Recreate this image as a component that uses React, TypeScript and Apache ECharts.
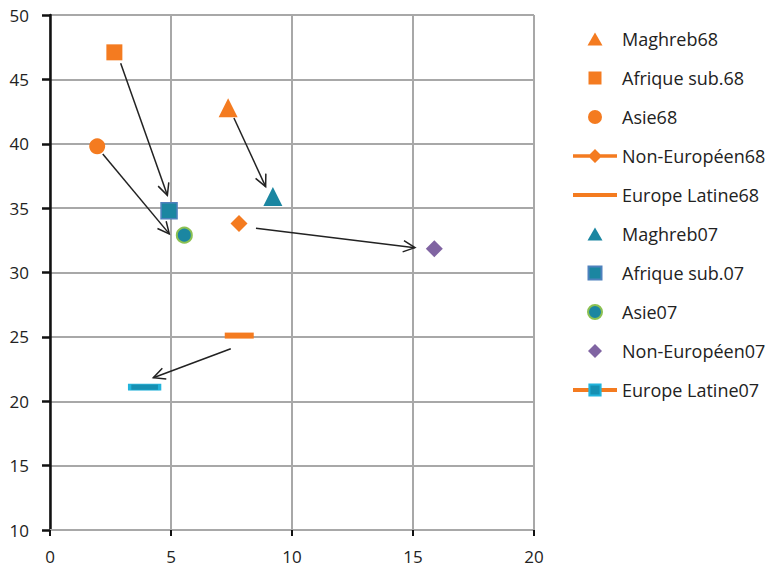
import React, { useEffect, useRef } from "react";
import * as echarts from "echarts";

// ---- data ----
const names68 = ["Maghreb68", "Afrique sub.68", "Asie68", "Non-Européen68", "Europe Latine68"];
const names07 = ["Maghreb07", "Afrique sub.07", "Asie07", "Non-Européen07", "Europe Latine07"];
const points68: number[][] = [
  [7.36, 42.8],
  [2.66, 47.1],
  [1.95, 39.8],
  [7.81, 33.8],
  [7.82, 25.1],
];
const points07: number[][] = [
  [9.21, 35.9],
  [4.92, 34.8],
  [5.55, 32.9],
  [15.88, 31.85],
  [3.91, 21.1],
];
// arrows: [xStart, yStart, xEnd, yEnd]
const arrows: number[][] = [
  [7.6, 42.0, 8.91, 36.67],
  [2.92, 46.25, 4.85, 36.0],
  [2.18, 39.2, 4.93, 33.0],
  [8.51, 33.43, 15.08, 31.93],
  [7.47, 24.08, 4.27, 21.83],
];
const xTicks = [0, 5, 10, 15, 20];
const yTicks = [10, 15, 20, 25, 30, 35, 40, 45, 50];

const ORANGE = "#f47b20";
const TEAL = "#1b86a1";
const FONT = "Open Sans";

// legend icons drawn in a 44x14 box (invisible corner points keep the box)
const BOX = "M0,0 L0,0 M44,14 L44,14 ";
const ICON_TRI = "path://" + BOX + "M22,0.5 L29.5,13.5 L14.5,13.5 Z";
const ICON_SQ = "path://" + BOX + "M15.5,0.5 L28.5,0.5 L28.5,13.5 L15.5,13.5 Z";
const ICON_CIRC = "path://" + BOX + "M29,7 A7,7 0 1 1 15,7 A7,7 0 1 1 29,7 Z";
const ICON_DIA = "path://" + BOX + "M22,0 L29,7 L22,14 L15,7 Z";
const ICON_LINE_DIA = "path://" + BOX + "M0,5.3 L44,5.3 L44,8.7 L0,8.7 Z M22,0 L29,7 L22,14 L15,7 Z";
const ICON_LINE = "path://" + BOX + "M0,5 L44,5 L44,9 L0,9 Z";

export default function App() {
  const ref = useRef<HTMLDivElement>(null);
  useEffect(() => {
    if (!ref.current) return;
    const chart = echarts.init(ref.current, null, { renderer: "svg" });
    const gridColor = "#a8a8a8";

    const series: any[] = [
      {
        name: names68[0], type: "scatter", symbol: "triangle", symbolSize: 19,
        itemStyle: { color: ORANGE, opacity: 1 }, data: [points68[0]], z: 3,
      },
      {
        name: names68[1], type: "scatter", symbol: "rect", symbolSize: 16,
        itemStyle: { color: ORANGE, opacity: 1 }, data: [points68[1]], z: 3,
      },
      {
        name: names68[2], type: "scatter", symbol: "circle", symbolSize: 16,
        itemStyle: { color: ORANGE, opacity: 1 }, data: [points68[2]], z: 3,
      },
      {
        name: names68[3], type: "scatter", symbol: "diamond", symbolSize: 17,
        itemStyle: { color: ORANGE, opacity: 1 }, data: [points68[3]], z: 3,
      },
      {
        name: names68[4], type: "scatter", symbol: "rect", symbolSize: [29, 6],
        itemStyle: { color: ORANGE, opacity: 1 }, data: [points68[4]], z: 3,
      },
      {
        name: names07[0], type: "scatter", symbol: "triangle", symbolSize: 19,
        itemStyle: { color: TEAL, opacity: 1 }, data: [points07[0]], z: 3,
      },
      {
        name: names07[1], type: "scatter", symbol: "rect", symbolSize: 16,
        itemStyle: { color: TEAL, borderColor: "#4f81bd", borderWidth: 1.5, opacity: 1 },
        data: [points07[1]], z: 3,
      },
      {
        name: names07[2], type: "scatter", symbol: "circle", symbolSize: 15,
        itemStyle: { color: TEAL, borderColor: "#8cc152", borderWidth: 2, opacity: 1 },
        data: [points07[2]], z: 3,
      },
      {
        name: names07[3], type: "scatter", symbol: "diamond", symbolSize: 17,
        itemStyle: { color: "#8064a2", opacity: 1 }, data: [points07[3]], z: 3,
      },
      {
        name: names07[4], type: "line", symbol: "rect", symbolSize: [30, 6], showSymbol: true,
        lineStyle: { color: ORANGE, width: 4 },
        itemStyle: { color: "#1590b3", borderColor: "#22b4dc", borderWidth: 1.5 },
        data: [points07[4]], z: 3,
      },
      {
        name: "arrows", type: "custom", z: 2, silent: true,
        encode: { x: [0, 2], y: [1, 3] },
        data: arrows,
        renderItem: (params: any, api: any) => {
          const p1 = api.coord([api.value(0), api.value(1)]);
          const p2 = api.coord([api.value(2), api.value(3)]);
          const ang = Math.atan2(p2[1] - p1[1], p2[0] - p1[0]);
          const L = 13, a = 0.45;
          const h1 = [p2[0] - L * Math.cos(ang - a), p2[1] - L * Math.sin(ang - a)];
          const h2 = [p2[0] - L * Math.cos(ang + a), p2[1] - L * Math.sin(ang + a)];
          return {
            type: "group",
            children: [
              { type: "line", shape: { x1: p1[0], y1: p1[1], x2: p2[0], y2: p2[1] }, style: { stroke: "#222", lineWidth: 1.5 } },
              { type: "polyline", shape: { points: [h1, p2, h2] }, style: { stroke: "#222", lineWidth: 1.5, fill: null } },
            ],
          };
        },
      },
    ];

    const iconFor: Record<string, string> = {
      "Maghreb68": ICON_TRI,
      "Afrique sub.68": ICON_SQ,
      "Asie68": ICON_CIRC,
      "Non-Européen68": ICON_LINE_DIA,
      "Europe Latine68": ICON_LINE,
      "Maghreb07": ICON_TRI,
      "Afrique sub.07": ICON_SQ,
      "Asie07": ICON_CIRC,
      "Non-Européen07": ICON_DIA,
    };
    const legendData = [...names68, ...names07].map((n) =>
      iconFor[n] ? { name: n, icon: iconFor[n] } : { name: n }
    );

    chart.setOption({
      animation: false,
      textStyle: { fontFamily: FONT },
      grid: { left: 50, right: 233, top: 15, bottom: 36, containLabel: false },
      legend: {
        orient: "vertical",
        left: 571,
        top: 30,
        padding: 0,
        itemWidth: 44,
        itemHeight: 14,
        itemGap: 21,
        selectedMode: false,
        lineStyle: { width: 4 },
        textStyle: { fontFamily: FONT, fontSize: 18, color: "#222" },
        data: legendData,
      },
      xAxis: {
        type: "value",
        min: xTicks[0],
        max: xTicks[xTicks.length - 1],
        interval: 5,
        axisLine: { show: true, onZero: false, lineStyle: { color: gridColor, width: 2 } },
        axisTick: { show: true, length: 6, lineStyle: { color: "#111", width: 2 } },
        axisLabel: { margin: 19, fontSize: 17, lineHeight: 14, color: "#222", fontFamily: FONT },
        splitLine: { show: true, lineStyle: { color: gridColor, width: 2 } },
      },
      yAxis: {
        type: "value",
        min: yTicks[0],
        max: yTicks[yTicks.length - 1],
        interval: 5,
        axisLine: { show: true, onZero: false, lineStyle: { color: "#111", width: 2.5 } },
        axisTick: { show: true, length: 8, lineStyle: { color: "#111", width: 2.5 } },
        axisLabel: { margin: 21, fontSize: 17, color: "#222", fontFamily: FONT },
        splitLine: { show: true, lineStyle: { color: gridColor, width: 2 } },
      },
      series,
    });
    return () => chart.dispose();
  }, []);
  return (
    <div
      ref={ref}
      style={{ position: "fixed", left: 0, top: 0, width: 767, height: 566, background: "#fff" }}
    />
  );
}
